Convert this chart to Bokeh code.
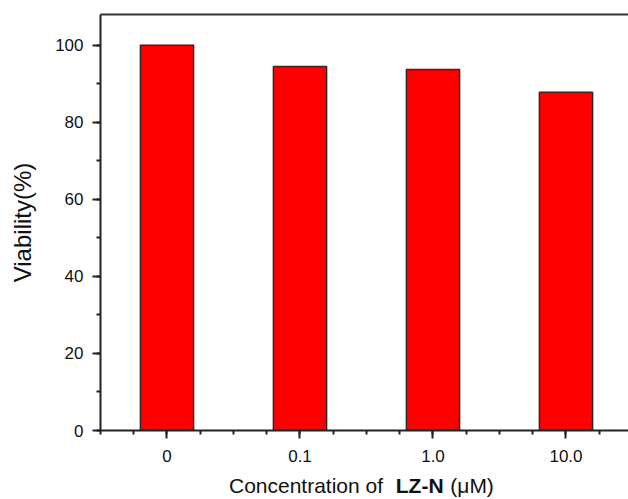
from bokeh.plotting import figure
from bokeh.layouts import column
from bokeh.models import FixedTicker, LinearAxis, Range1d, ColumnDataSource
from bokeh.core.properties import value
from bokeh.embed import file_html
from bokeh.resources import INLINE

# Cell viability at each LZ-N concentration
categories = ["0", "0.1", "1.0", "10.0"]
viability = [100.0, 94.5, 93.7, 87.8]
y_ticks = [0, 20, 40, 60, 80, 100]

# x-axis title pieces (the compound name is set in bold)
title_parts = ["Concentration of", "LZ-N", "(\u03bcM)"]
title_styles = ["normal", "bold", "normal"]
title_x = [1.466, 2.72, 3.13]

positions = list(range(1, len(categories) + 1))
src = ColumnDataSource(dict(x=positions, top=viability))

FONT = "Liberation Sans"
INK = "#111111"
x_range = Range1d(0.5, 4.47)

p = figure(width=628, height=469, output_backend="svg", toolbar_location=None,
           x_range=x_range, y_range=Range1d(0, 108),
           min_border_left=100, min_border_right=0, min_border_top=14,
           min_border_bottom=39)
p.outline_line_color = None
p.grid.visible = False

p.vbar(x="x", top="top", bottom=0, width=0.4, source=src,
       fill_color="#FF0000", line_color="#2a2a2a", line_width=1.5)

# x axis: categories at integer positions, minor ticks every quarter
xa = p.xaxis[0]
xa.ticker = FixedTicker(ticks=positions,
                        minor_ticks=[0.5 + 0.25 * i for i in range(17)])
xa.major_label_overrides = {pos: lab for pos, lab in zip(positions, categories)}

# y axis
ya = p.yaxis[0]
ya.ticker = FixedTicker(ticks=y_ticks, minor_ticks=list(range(0, 110, 10)))
ya.axis_label = "Viability(%)"

for ax in (xa, ya):
    ax.axis_line_width = 2
    ax.axis_line_color = "#222222"
    ax.major_tick_line_width = 2
    ax.minor_tick_line_width = 2
    ax.major_tick_line_color = "#222222"
    ax.minor_tick_line_color = "#222222"
    ax.major_tick_in = 0
    ax.major_tick_out = 8
    ax.minor_tick_in = 0
    ax.minor_tick_out = 4
    ax.major_label_text_font = FONT
    ax.major_label_text_font_size = "17px"
    ax.major_label_text_color = INK
    ax.axis_label_text_font = FONT
    ax.axis_label_text_font_style = "normal"
    ax.axis_label_text_font_size = "24px"
    ax.axis_label_text_color = INK

xa.major_label_standoff = 11
ya.major_label_standoff = 9
ya.axis_label_standoff = 16

# top border line
top = LinearAxis(axis_line_width=2, axis_line_color="#333333",
                 major_tick_line_color=None, minor_tick_line_color=None,
                 major_label_text_font_size="0px",
                 ticker=FixedTicker(ticks=[]))
p.add_layout(top, "above")

# strip below the chart carrying the x-axis title
t = figure(width=628, height=30, output_backend="svg", toolbar_location=None,
           x_range=x_range, y_range=Range1d(0, 30),
           min_border_left=100, min_border_right=0, min_border_top=0,
           min_border_bottom=0)
t.axis.visible = False
t.grid.visible = False
t.outline_line_color = None
for txt, style, xpos in zip(title_parts, title_styles, title_x):
    t.text(x=[xpos], y=[14], text=[txt], text_font=value(FONT),
           text_font_style=style, text_font_size="21px", text_color=INK,
           text_baseline="middle", text_align="left")

layout = column(p, t, spacing=0)
open("out.html", "w").write(file_html(layout, INLINE))
